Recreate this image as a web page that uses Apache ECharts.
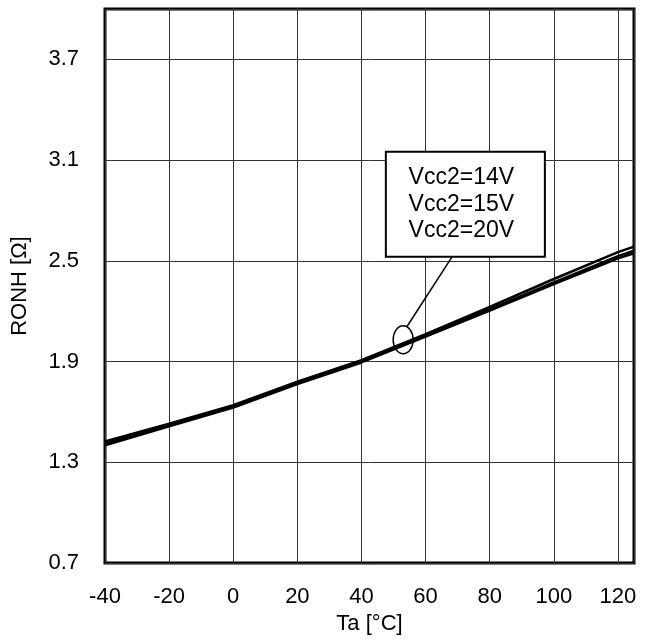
<!DOCTYPE html>
<html>
<head>
<meta charset="utf-8">
<script src="https://cdn.jsdelivr.net/npm/echarts@6/dist/echarts.min.js"></script>
<style>
  html, body { margin: 0; padding: 0; background: #fff; }
  #chart { width: 654px; height: 640px; }
</style>
</head>
<body>
<div id="chart"></div>
<script>
// Ambient temperature (°C) at which RONH was measured
const temperatures = [-40, -20, 0, 20, 40, 60, 80, 100, 120, 125];

// High-side on-resistance RONH (Ω) for each supply voltage
const ronhVcc14 = [1.425, 1.530, 1.640, 1.780, 1.908, 2.064, 2.226, 2.392, 2.552, 2.585];
const ronhVcc15 = [1.413, 1.522, 1.633, 1.773, 1.901, 2.055, 2.212, 2.372, 2.528, 2.560];
const ronhVcc20 = [1.402, 1.514, 1.626, 1.766, 1.895, 2.049, 2.204, 2.362, 2.515, 2.545];

const seriesNames = ['Vcc2=14V', 'Vcc2=15V', 'Vcc2=20V'];

const FONT = '"Liberation Sans", Arial, sans-serif';

const chart = echarts.init(document.getElementById('chart'), null, { renderer: 'canvas' });

function pairs(ys) {
  return temperatures.map((t, i) => [t, ys[i]]);
}

const lineStyle = { color: '#000', width: 2.5 };

chart.setOption({
  animation: false,
  backgroundColor: '#fff',
  grid: {
    left: 105, right: 20, top: 9, bottom: 76,
    show: true, borderColor: '#000', borderWidth: 3, backgroundColor: 'transparent'
  },
  xAxis: {
    type: 'value',
    min: -40, max: 125, interval: 20,
    name: 'Ta [°C]', nameLocation: 'middle', nameGap: 48,
    nameTextStyle: { fontFamily: FONT, fontSize: 22, color: '#000' },
    axisLine: { show: false },
    axisTick: { show: false },
    axisLabel: { fontFamily: FONT, fontSize: 22, color: '#000', margin: 23, showMaxLabel: false },
    splitLine: { show: true, lineStyle: { color: '#333', width: 1 } }
  },
  yAxis: {
    type: 'value',
    min: 0.7, max: 4.0, interval: 0.6,
    name: 'RONH [Ω]', nameLocation: 'middle', nameGap: 74,
    nameTextStyle: { fontFamily: FONT, fontSize: 22, color: '#000' },
    axisLine: { show: false },
    axisTick: { show: false },
    axisLabel: {
      fontFamily: FONT, fontSize: 22, color: '#000', margin: 26, showMaxLabel: false,
      formatter: v => v.toFixed(1)
    },
    splitLine: { show: true, lineStyle: { color: '#333', width: 1 } }
  },
  series: [ronhVcc14, ronhVcc15, ronhVcc20].map((ys, i) => ({
    name: seriesNames[i],
    type: 'line',
    data: pairs(ys),
    showSymbol: false,
    smooth: false,
    lineStyle: lineStyle,
    z: 3
  }))
});

// Callout: legend box with a leader line to an ellipse circling the curves
const ringCenter = chart.convertToPixel({ gridIndex: 0 }, [53, 2.03]);
const boxTopLeft = chart.convertToPixel({ gridIndex: 0 }, [47.6, 3.15]);
const boxBottomRight = chart.convertToPixel({ gridIndex: 0 }, [97.2, 2.525]);
const leaderTop = chart.convertToPixel({ gridIndex: 0 }, [68.3, 2.525]);
const ringRx = 10, ringRy = 14;
const boxW = boxBottomRight[0] - boxTopLeft[0];
const boxH = boxBottomRight[1] - boxTopLeft[1];

chart.setOption({
  graphic: [
    {
      type: 'line', z: 10,
      shape: { x1: leaderTop[0], y1: leaderTop[1], x2: ringCenter[0] + 4, y2: ringCenter[1] - ringRy + 0.5 },
      style: { stroke: '#000', lineWidth: 1.5 }
    },
    {
      type: 'ellipse', z: 10,
      shape: { cx: ringCenter[0], cy: ringCenter[1], rx: ringRx, ry: ringRy },
      style: { fill: 'transparent', stroke: '#000', lineWidth: 1.5 }
    },
    {
      type: 'rect', z: 11,
      shape: { x: boxTopLeft[0], y: boxTopLeft[1], width: boxW, height: boxH },
      style: { fill: '#fff', stroke: '#000', lineWidth: 2 }
    },
    {
      type: 'text', z: 12,
      x: boxTopLeft[0] + boxW / 2 - 4,
      y: boxTopLeft[1] + boxH / 2,
      style: {
        text: seriesNames.join('\n'),
        fontFamily: FONT, fontSize: 23, lineHeight: 26.7,
        fill: '#000', align: 'center', verticalAlign: 'middle'
      }
    }
  ]
});
</script>
</body>
</html>
